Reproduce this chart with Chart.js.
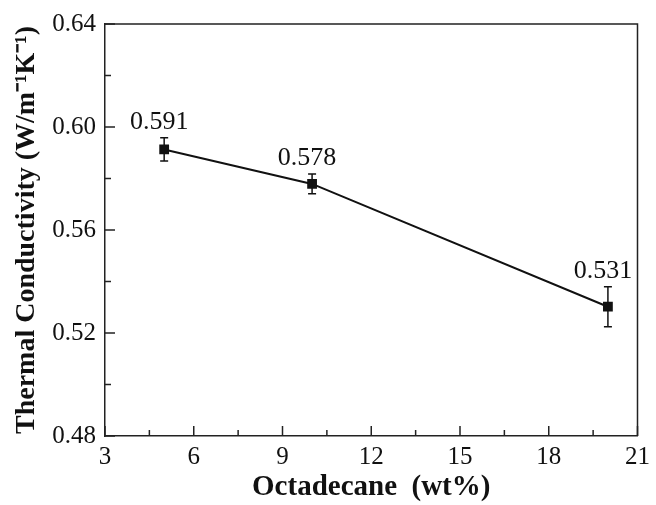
<!DOCTYPE html>
<html>
<head>
<meta charset="utf-8">
<script src="https://cdn.jsdelivr.net/npm/chart.js@4"></script>
<style>
  body { margin: 0; background: #fff; }
  #wrap { width: 656px; height: 505px; }
</style>
</head>
<body>
<div id="wrap"><canvas id="tc" width="656" height="505"></canvas></div>
<script>
// data
var loading = [5, 10, 20];               // Octadecane wt%
var conductivity = [0.5913, 0.5779, 0.5302];
var errors = [0.0045, 0.0038, 0.0078];
var pointLabels = ["0.591", "0.578", "0.531"];
var xTicks = [3, 6, 9, 12, 15, 18, 21];
var yTicks = [0.48, 0.52, 0.56, 0.60, 0.64];

var serif = "'Liberation Serif', 'Times New Roman', serif";

// inward ticks, error bars and value labels
var extras = {
    id: "extras",
    afterDatasetsDraw: function (chart) {
        var c = chart.ctx;
        var xs = chart.scales.x, ys = chart.scales.y;
        var a = chart.chartArea;
        c.save();
        c.strokeStyle = "#222";
        c.lineWidth = 1.5;
        // x ticks (major + minor)
        for (var v = 3; v <= 21; v += 1.5) {
            var px = xs.getPixelForValue(v);
            var len = (v % 3 === 0) ? 10 : 6;
            c.beginPath();
            c.moveTo(px, a.bottom);
            c.lineTo(px, a.bottom - len);
            c.stroke();
        }
        // y ticks (major + minor)
        for (var k = 0; k <= 8; k++) {
            var val = 0.48 + k * 0.02;
            var py = ys.getPixelForValue(val);
            var l = (k % 2 === 0) ? 10 : 6;
            c.beginPath();
            c.moveTo(a.left, py);
            c.lineTo(a.left + l, py);
            c.stroke();
        }
        // error bars
        c.strokeStyle = "#111";
        c.lineWidth = 1.5;
        for (var i = 0; i < loading.length; i++) {
            var x = xs.getPixelForValue(loading[i]);
            var yt = ys.getPixelForValue(conductivity[i] + errors[i]);
            var yb = ys.getPixelForValue(conductivity[i] - errors[i]);
            c.beginPath();
            c.moveTo(x, yt); c.lineTo(x, yb);
            c.moveTo(x - 4, yt); c.lineTo(x + 4, yt);
            c.moveTo(x - 4, yb); c.lineTo(x + 4, yb);
            c.stroke();
            // value label
            c.fillStyle = "#111";
            c.font = "26px " + serif;
            c.textAlign = "center";
            c.textBaseline = "alphabetic";
            c.fillText(pointLabels[i], x - 5, yt - 9);
        }
        c.restore();
    }
};

new Chart(document.getElementById("tc").getContext("2d"), {
    type: "line",
    data: {
        datasets: [{
            data: loading.map(function (x, i) { return { x: x, y: conductivity[i] }; }),
            borderColor: "#111",
            borderWidth: 2,
            backgroundColor: "#111",
            pointStyle: "rect",
            pointRadius: 5.5,
            pointHoverRadius: 5.5,
            tension: 0
        }]
    },
    options: {
        responsive: false,
        animation: false,
        layout: { padding: { top: 24, right: 13, left: 0, bottom: 0 } },
        plugins: {
            legend: { display: false },
            tooltip: { enabled: false }
        },
        scales: {
            x: {
                type: "linear",
                min: 3,
                max: 21,
                afterBuildTicks: function (s) { s.ticks = xTicks.map(function (v) { return { value: v }; }); },
                afterFit: function (s) { s.height = 69; },
                grid: { display: false, drawTicks: false },
                border: { display: true, color: "#222", width: 1.5 },
                ticks: {
                    color: "#111",
                    padding: 6,
                    font: { family: serif, size: 25 }
                },
                title: {
                    display: true,
                    text: "Octadecane  (wt%)",
                    color: "#111",
                    padding: { top: 0, bottom: 0 },
                    font: { family: serif, size: 29, weight: "bold" }
                }
            },
            y: {
                type: "linear",
                min: 0.48,
                max: 0.64,
                afterBuildTicks: function (s) { s.ticks = yTicks.map(function (v) { return { value: v }; }); },
                afterFit: function (s) { s.width = 105; },
                grid: { display: false, drawTicks: false },
                border: { display: true, color: "#222", width: 1.5 },
                ticks: {
                    color: "#111",
                    padding: 9,
                    font: { family: serif, size: 25 },
                    callback: function (v) { return v.toFixed(2); }
                },
                title: {
                    display: true,
                    text: "Thermal Conductivity (W/m\u207B\u00B9K\u207B\u00B9)",
                    color: "#111",
                    padding: { top: 10, bottom: 0 },
                    font: { family: serif, size: 28, weight: "bold" }
                }
            }
        }
    },
    plugins: [extras, {
        id: "frame",
        afterDraw: function (chart) {
            var c = chart.ctx, a = chart.chartArea;
            c.save();
            c.strokeStyle = "#222";
            c.lineWidth = 1.5;
            c.beginPath();
            c.moveTo(a.left, a.top); c.lineTo(a.right, a.top); c.lineTo(a.right, a.bottom);
            c.stroke();
            c.restore();
        }
    }]
});
</script>
</body>
</html>
